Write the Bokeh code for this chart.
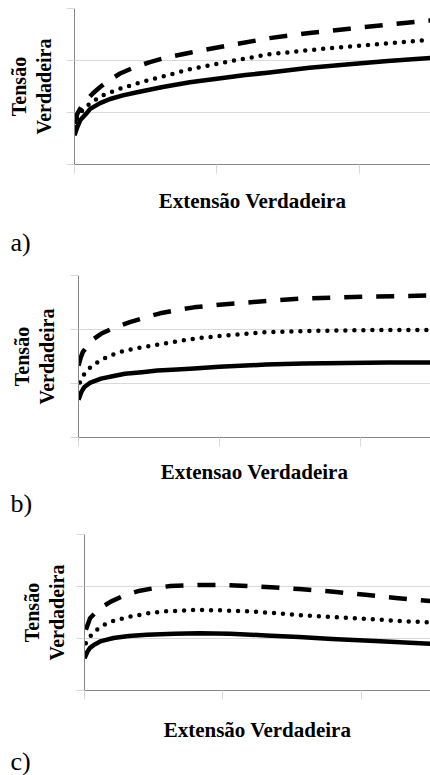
from bokeh.plotting import figure
from bokeh.layouts import column, row
from bokeh.models import Range1d, FixedTicker, Title, LinearAxis
from bokeh.embed import file_html
from bokeh.resources import INLINE

# ---------------- data (arbitrary units) ----------------
# panel a)
a_sol_x = [0.0, 0.02, 0.04, 0.08, 0.11, 0.18, 0.25, 0.34, 0.44, 0.62, 0.81, 1.0, 1.2, 1.37, 1.65, 1.93, 2.2, 2.5]
a_sol_y = [0.56, 0.72, 0.85, 0.97, 1.07, 1.18, 1.26, 1.33, 1.39, 1.49, 1.58, 1.65, 1.72, 1.77, 1.86, 1.93, 1.99, 2.05]
a_dot_x = [0.0, 0.02, 0.05, 0.09, 0.14, 0.2, 0.3, 0.44, 0.6, 0.81, 1.1, 1.37, 1.65, 1.93, 2.2, 2.5]
a_dot_y = [0.72, 0.9, 1.02, 1.13, 1.23, 1.33, 1.44, 1.56, 1.68, 1.83, 1.99, 2.12, 2.2, 2.27, 2.33, 2.4]
a_dsh_x = [0.0, 0.02, 0.05, 0.09, 0.13, 0.18, 0.25, 0.32, 0.42, 0.53, 0.65, 0.81, 1.1, 1.37, 1.65, 1.93, 2.2, 2.5]
a_dsh_y = [0.78, 0.98, 1.12, 1.25, 1.37, 1.49, 1.63, 1.75, 1.87, 1.97, 2.06, 2.15, 2.3, 2.43, 2.53, 2.61, 2.69, 2.77]
# panel b)
b_sol_x = [0.0, 0.02, 0.04, 0.08, 0.16, 0.25, 0.33, 0.45, 0.56, 0.7, 0.82, 1.0, 1.33, 1.6, 1.9, 2.2, 2.5]
b_sol_y = [0.70, 0.84, 0.93, 1.01, 1.09, 1.14, 1.18, 1.21, 1.24, 1.26, 1.28, 1.31, 1.35, 1.37, 1.38, 1.39, 1.39]
b_dot_x = [0.01, 0.04, 0.07, 0.12, 0.18, 0.25, 0.33, 0.45, 0.56, 0.7, 0.82, 1.0, 1.33, 1.6, 1.8, 2.1, 2.5]
b_dot_y = [1.02, 1.17, 1.27, 1.37, 1.46, 1.54, 1.61, 1.67, 1.72, 1.78, 1.83, 1.88, 1.95, 1.97, 1.98, 1.99, 1.99]
b_dsh_x = [0.0, 0.015, 0.03, 0.07, 0.11, 0.16, 0.25, 0.37, 0.47, 0.58, 0.7, 0.82, 1.0, 1.2, 1.4, 1.57, 1.8, 2.04, 2.3, 2.5]
b_dsh_y = [1.33, 1.47, 1.58, 1.72, 1.83, 1.92, 2.03, 2.14, 2.22, 2.30, 2.36, 2.41, 2.46, 2.50, 2.54, 2.57, 2.59, 2.61, 2.62, 2.63]
# panel c)
c_sol_x = [0.0, 0.02, 0.04, 0.07, 0.12, 0.21, 0.32, 0.45, 0.65, 0.83, 1.05, 1.31, 1.55, 1.79, 2.1, 2.5]
c_sol_y = [0.62, 0.74, 0.82, 0.88, 0.95, 1.01, 1.05, 1.07, 1.09, 1.10, 1.09, 1.06, 1.03, 0.99, 0.95, 0.9]
c_dot_x = [0.01, 0.04, 0.08, 0.14, 0.22, 0.33, 0.45, 0.57, 0.8, 1.0, 1.19, 1.38, 1.55, 1.8, 2.03, 2.25, 2.5]
c_dot_y = [0.91, 1.04, 1.15, 1.26, 1.35, 1.42, 1.48, 1.52, 1.55, 1.54, 1.52, 1.49, 1.45, 1.41, 1.38, 1.34, 1.31]
c_dsh_x = [0.01, 0.04, 0.08, 0.13, 0.19, 0.29, 0.4, 0.51, 0.62, 0.82, 1.0, 1.19, 1.38, 1.55, 1.8, 2.03, 2.25, 2.5]
c_dsh_y = [1.17, 1.39, 1.50, 1.61, 1.71, 1.83, 1.92, 1.97, 2.01, 2.03, 2.03, 2.01, 1.98, 1.95, 1.90, 1.84, 1.78, 1.72]

y_ticks = [0, 1, 2, 3]
x_ticks = [0, 1, 2]
y_title_lines = ["Tensão", "Verdadeira"]
x_titles = ["Extensão Verdadeira", "Extensao Verdadeira", "Extensão Verdadeira"]
panel_tags = ["a)", "b)", "c)"]

SERIF = "Liberation Serif"


def style_label(ax, size):
    ax.axis_label_text_font = SERIF
    ax.axis_label_text_font_style = "bold"
    ax.axis_label_text_font_size = size
    ax.axis_label_text_color = "black"


def make_panel(sol, dot, dsh, xlabel, tag, height, top, bottom, left,
               xl_standoff, tag_standoff, yl_standoffs):
    p = figure(width=430, height=height, output_backend="svg", toolbar_location=None,
               x_range=Range1d(0, 2.5), y_range=Range1d(0, 3),
               min_border_top=top, min_border_bottom=bottom,
               min_border_left=left, min_border_right=0)
    p.outline_line_color = None
    p.background_fill_color = "white"
    p.border_fill_color = "white"
    p.xgrid.grid_line_color = None
    p.ygrid.grid_line_color = "#d9d9d9"
    p.ygrid.grid_line_width = 1

    p.yaxis.ticker = FixedTicker(ticks=y_ticks)
    p.xaxis.ticker = FixedTicker(ticks=x_ticks)
    for ax in (p.xaxis, p.yaxis):
        ax.axis_line_color = "#868686"
        ax.major_tick_line_color = "#d9d9d9"
        ax.major_tick_in = 0
        ax.minor_tick_line_color = None
        ax.major_label_text_font_size = "1px"
        ax.major_label_text_alpha = 0
        ax.major_label_standoff = 0
    p.xaxis.major_tick_out = 9
    p.yaxis.major_tick_out = 8
    p.xaxis.major_label_overrides = {t: "" for t in x_ticks}
    p.yaxis.major_label_overrides = {t: "" for t in y_ticks}

    p.xaxis.axis_label = xlabel
    style_label(p.xaxis[0], "21px")
    p.xaxis.axis_label_standoff = xl_standoff

    # two-line y title: inner line on the main axis, outer line on a bare axis
    p.yaxis.axis_label = y_title_lines[1]
    style_label(p.yaxis[0], "20px")
    p.yaxis.axis_label_standoff = yl_standoffs[1]

    outer = LinearAxis(ticker=FixedTicker(ticks=[]), axis_line_color=None,
                       major_tick_line_color=None, minor_tick_line_color=None,
                       major_label_text_font_size="1px", major_label_standoff=0,
                       axis_label=y_title_lines[0],
                       axis_label_standoff=yl_standoffs[0])
    style_label(outer, "20px")
    p.add_layout(outer, "left")

    p.line(sol[0], sol[1], line_color="black", line_width=4.5, line_join="round")
    p.line(dot[0], dot[1], line_color="black", line_width=4.5, line_dash="0 9",
           line_cap="round", line_join="round")
    p.line(dsh[0], dsh[1], line_color="black", line_width=4.5, line_dash="18 14",
           line_join="round")

    p.add_layout(Title(text=tag, align="left", offset=-(left - 10), text_font=SERIF,
                       text_font_size="26px", text_font_style="normal",
                       text_color="black", standoff=tag_standoff), "below")
    return p


# figure a: y 0..266, frame 8..164
pa = make_panel((a_sol_x, a_sol_y), (a_dot_x, a_dot_y), (a_dsh_x, a_dsh_y),
                x_titles[0], panel_tags[0], 266, 8, 102, 74, 15, 20, (0, 12))
# figure b: y 266..517, frame 275..437
pb = make_panel((b_sol_x, b_sol_y), (b_dot_x, b_dot_y), (b_dsh_x, b_dsh_y),
                x_titles[1], panel_tags[1], 251, 9, 80, 78, 13, 0, (0, 13))
# figure c: y 517..775, frame 534..691
pc = make_panel((c_sol_x, c_sol_y), (c_dot_x, c_dot_y), (c_dsh_x, c_dsh_y),
                x_titles[2], panel_tags[2], 258, 17, 84, 84, 18, 0, (0, 9))

layout = column(row(pa), row(pb), row(pc), spacing=0)
open("out.html", "w").write(file_html(layout, INLINE))
